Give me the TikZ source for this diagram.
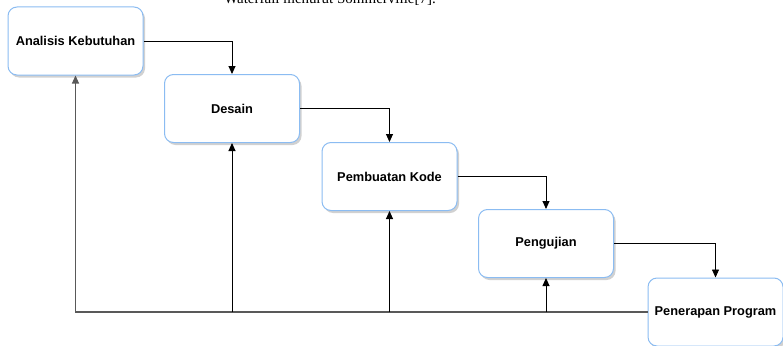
\documentclass[tikz,border=0pt]{standalone}
\usepackage{fontspec}
\setmainfont{Liberation Serif}
\newfontfamily\boxfont{Liberation Sans}
\usetikzlibrary{arrows.meta,shadows}
\definecolor{boxblue}{HTML}{8BBCF2}
\begin{document}
\begin{tikzpicture}[x=1pt,y=-1pt,
  stage/.style={draw=boxblue,line width=1pt,rounded corners=9pt,fill=white,
    minimum width=135pt,minimum height=68pt,inner sep=0pt,
    font=\boxfont\bfseries\fontsize{12.8}{15}\selectfont,
    drop shadow={shadow xshift=2pt,shadow yshift=-2.5pt,fill=black!40,opacity=0.45}},
  tip/.style={-{Triangle[width=7pt,length=8pt]}},
  flow/.style={draw=black,line width=0.9pt,tip},
  back/.style={draw=black!65,line width=1.1pt}]
\useasboundingbox (0,0) rectangle (783,345);
\clip (0,0) rectangle (783,345);
\node[anchor=base west,inner sep=0pt,font=\fontsize{15}{17}\selectfont] (cap) at (224,4) {Waterfall menurut Sommerville[7].};
\node[stage] (a) at (75.5,41) {Analisis Kebutuhan};
\node[stage] (b) at (232,108.5) {Desain};
\node[stage] (c) at (389.5,176.5) {Pembuatan Kode};
\node[stage] (d) at (546,243.5) {Pengujian};
\node[stage] (e) at (715.5,312) {Penerapan Program};
\draw[flow] (a.east) -| (b.north);
\draw[flow] (b.east) -| (c.north);
\draw[flow] (c.east) -| (d.north);
\draw[flow] (d.east) -| (e.north);
\coordinate (jb) at (b.south |- e.west);
\coordinate (jc) at (c.south |- e.west);
\coordinate (jd) at (d.south |- e.west);
\draw[back,tip] (e.west) -| (a.south);
\draw[flow] (jb) -- (b.south);
\draw[flow] (jc) -- (c.south);
\draw[flow] (jd) -- (d.south);
\end{tikzpicture}
\end{document}
